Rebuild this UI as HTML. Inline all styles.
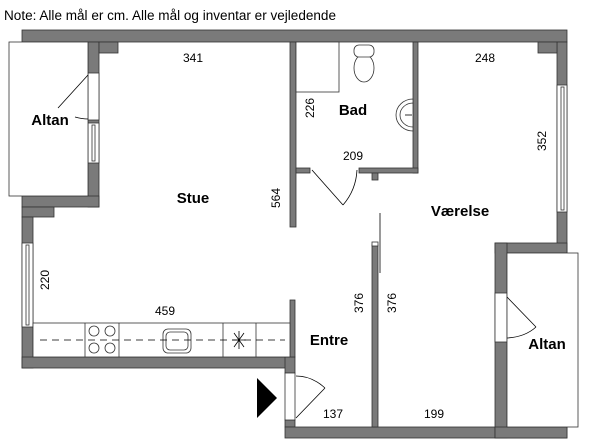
<!DOCTYPE html>
<html><head><meta charset="utf-8"><style>
html,body{margin:0;padding:0;background:#fff;}
svg{display:block;}
text{font-family:"Liberation Sans",sans-serif;fill:#000;}
.d{font-size:12px;}
.b{font-size:15px;font-weight:bold;}
</style></head><body>
<svg width="600" height="447" viewBox="0 0 600 447" xmlns="http://www.w3.org/2000/svg">
<text x="4" y="20" style="font-size:13.5px" textLength="332" lengthAdjust="spacingAndGlyphs">Note: Alle mål er cm. Alle mål og inventar er vejledende</text>
<g fill="#7a7a7a" stroke="#333" stroke-width="0.8">
<rect x="22" y="30" width="545" height="12"/>
<rect x="88" y="42" width="11" height="165"/>
<rect x="99" y="42" width="19" height="11"/>
<rect x="22" y="196" width="77" height="11"/>
<rect x="22" y="207" width="32" height="10"/>
<rect x="22" y="217" width="11" height="151"/>
<rect x="22" y="357" width="271" height="11"/>
<rect x="285" y="357" width="10" height="16"/>
<rect x="290" y="300" width="5" height="57"/>
<rect x="285" y="420" width="10" height="7"/>
<rect x="285" y="427" width="282" height="11"/>
<rect x="372" y="245" width="6" height="182"/>
<rect x="557" y="42" width="10" height="211"/>
<rect x="538" y="42" width="19" height="11"/>
<rect x="495" y="243" width="72" height="10"/>
<rect x="495" y="243" width="12" height="195"/>
<rect x="495" y="427" width="72" height="11"/>
<rect x="290" y="42" width="6" height="185"/>
<rect x="413" y="42" width="5" height="131"/>
<rect x="296" y="168" width="14" height="5"/>
<rect x="359" y="168" width="59" height="5"/>
<rect x="372" y="173" width="6" height="7"/>
</g>
<g fill="#fff" stroke="#333" stroke-width="0.8">
<rect x="88" y="73" width="11" height="47"/>
<rect x="88" y="123" width="11" height="40"/>
<rect x="92" y="125" width="3" height="36"/>
<rect x="22" y="243" width="11" height="84"/>
<rect x="26" y="245" width="3" height="80"/>
<rect x="557" y="85" width="10" height="127"/>
<rect x="561" y="87" width="3" height="123"/>
<rect x="495" y="293" width="12" height="49"/>
<rect x="285" y="373" width="10" height="47"/>
<rect x="372" y="242" width="6" height="4"/>
<rect x="9" y="42" width="79" height="154"/>
<rect x="507" y="253" width="71" height="174"/>
<rect x="33" y="323" width="257" height="34"/>
<line x1="85" y1="323" x2="85" y2="357"/>
<line x1="119" y1="323" x2="119" y2="357"/>
<line x1="223" y1="323" x2="223" y2="357"/>
<line x1="256" y1="323" x2="256" y2="357"/>
<circle cx="94" cy="331" r="5"/><circle cx="110" cy="331" r="5"/>
<circle cx="94" cy="348" r="5"/><circle cx="110" cy="348" r="5"/>
<rect x="163" y="329" width="28" height="24" rx="5"/>
<rect x="166" y="332" width="22" height="18" rx="4"/>
<rect x="296" y="42" width="43" height="50"/>
<ellipse cx="364" cy="68" rx="10" ry="14"/>
<rect x="354" y="45" width="20" height="12" rx="5"/>
<path d="M413 99 A17 16 0 0 0 413 131 Z"/>
<path d="M413 103 A13 12 0 0 0 413 127 Z"/>
</g>
<g fill="none" stroke="#000" stroke-width="0.8">
<line x1="40" y1="340" x2="285" y2="340" stroke-dasharray="7,5"/>
<path d="M234 333 L244 347 M244 333 L234 347 M239 331 L239 349 M232 340 L246 340"/>
<line x1="88" y1="75" x2="58" y2="108"/>
<path d="M75 117 Q82 119 88 119"/>
<line x1="312" y1="170" x2="343" y2="205"/>
<path d="M343 205 Q356 190 357 170"/>
<line x1="380" y1="213" x2="380" y2="273"/>
<line x1="296" y1="418" x2="325" y2="388"/>
<path d="M325 388 Q312 376 296 376"/>
<line x1="507" y1="297" x2="536" y2="327"/>
<path d="M536 327 Q525 337 507 338"/>
<line x1="405" y1="115" x2="412" y2="115"/>
</g>
<polygon points="257,378 277,398 257,418" fill="#000"/>
<text class="d" x="193" y="62" text-anchor="middle">341</text>
<text class="b" x="193" y="203" text-anchor="middle">Stue</text>
<text class="d" transform="translate(280,198) rotate(-90)" text-anchor="middle">564</text>
<text class="b" x="50" y="125" text-anchor="middle">Altan</text>
<text class="d" transform="translate(314,108) rotate(-90)" text-anchor="middle">226</text>
<text class="b" x="353" y="115" text-anchor="middle">Bad</text>
<text class="d" x="353" y="160" text-anchor="middle">209</text>
<text class="d" x="485" y="62" text-anchor="middle">248</text>
<text class="d" transform="translate(546,141) rotate(-90)" text-anchor="middle">352</text>
<text class="b" x="460" y="216" text-anchor="middle">Værelse</text>
<text class="d" transform="translate(49,280) rotate(-90)" text-anchor="middle">220</text>
<text class="d" x="165" y="315" text-anchor="middle">459</text>
<text class="b" x="329" y="345" text-anchor="middle">Entre</text>
<text class="d" transform="translate(363,303) rotate(-90)" text-anchor="middle">376</text>
<text class="d" transform="translate(396,303) rotate(-90)" text-anchor="middle">376</text>
<text class="d" x="333" y="418" text-anchor="middle">137</text>
<text class="d" x="434" y="418" text-anchor="middle">199</text>
<text class="b" x="547" y="349" text-anchor="middle">Altan</text>
</svg>
</body></html>
